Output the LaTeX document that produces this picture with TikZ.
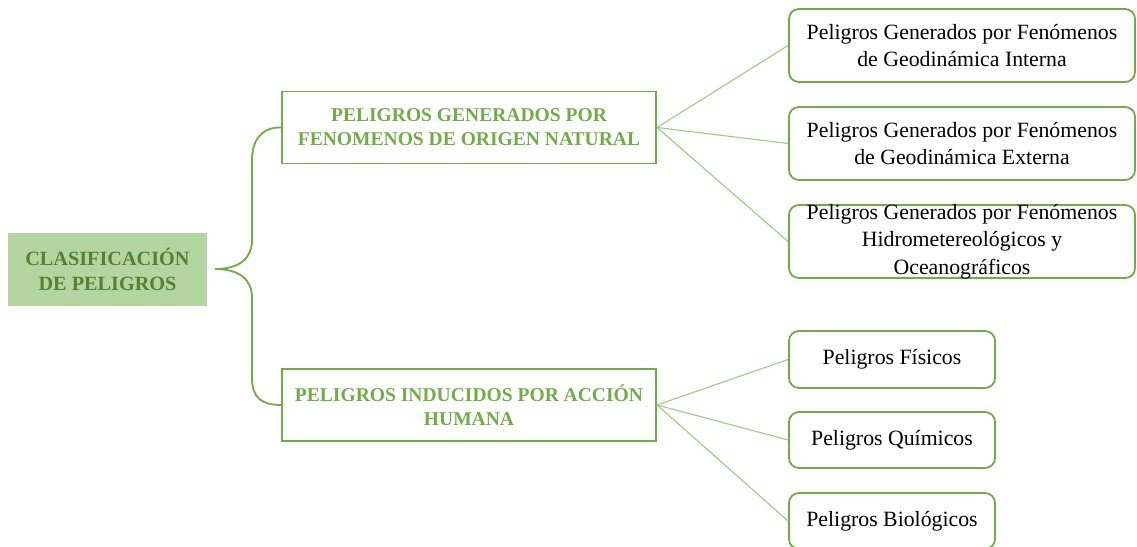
\documentclass[tikz,border=0pt]{standalone}
\usepackage{fontspec}
\setmainfont{Liberation Serif}
\definecolor{leaf}{HTML}{70AD47}
\definecolor{leafdark}{HTML}{548235}
\definecolor{leaffill}{HTML}{B5D5A0}
\definecolor{leaflight}{HTML}{A0CC82}
\tikzset{
  rootbox/.style={fill=leaffill, minimum width=4.975cm, minimum height=1.825cm,
    align=center, text=leafdark, font=\fontsize{14.4}{17.8}\selectfont\bfseries},
  groupbox/.style={draw=leaf, line width=1.4pt, minimum width=9.35cm, minimum height=1.8cm,
    align=center, text=leaf, font=\fontsize{13.9}{17.2}\selectfont\bfseries},
  leafbox/.style={draw=leaf, line width=1.3pt, rounded corners=0.25cm, align=center,
    font=\fontsize{15.5}{19.5}\selectfont},
  brace/.style={draw=leaf, line width=1.3pt},
  link/.style={draw=leaflight, line width=0.8pt}
}
\begin{document}
\begin{tikzpicture}[x=0.025cm, y=-0.025cm]
    \useasboundingbox (0,0) rectangle (1137,546);
    \node[rootbox] (root) at (107.5,269.5) {CLASIFICACIÓN\\DE PELIGROS};
    \node[groupbox] (nat) at (469,127.5) {PELIGROS GENERADOS POR\\FENOMENOS DE ORIGEN NATURAL};
    \node[groupbox] (hum) at (469,405) {PELIGROS INDUCIDOS POR ACCIÓN\\HUMANA};
    \node[leafbox, minimum width=8.65cm, minimum height=1.825cm] (geoi) at (962,45.5)
      {Peligros Generados por Fenómenos\\de Geodinámica Interna};
    \node[leafbox, minimum width=8.65cm, minimum height=1.825cm] (geoe) at (962,143.5)
      {Peligros Generados por Fenómenos\\de Geodinámica Externa};
    \node[leafbox, minimum width=8.65cm, minimum height=1.825cm] (hidro) at (962,241.5) {};
    \node[align=center, font=\fontsize{15.5}{19.5}\selectfont] (hidrot) at (hidro)
      {Peligros Generados por Fenómenos\\Hidrometereológicos y\\Oceanográficos};
    \node[leafbox, minimum width=5.15cm, minimum height=1.425cm] (fis) at (892,359.5) {Peligros Físicos};
    \node[leafbox, minimum width=5.15cm, minimum height=1.4cm] (qui) at (892,440) {Peligros Químicos};
    \node[leafbox, minimum width=5.15cm, minimum height=1.4cm] (bio) at (892,521) {Peligros Biológicos};
    % brace from the root to both groups
    \coordinate (fork) at (215,269);
    \draw[brace] (nat.west) .. controls (262,127) and (252,140) .. (252,160)
      -- (252,240) .. controls (252,258) and (240,269) .. (fork);
    \draw[brace] (fork) .. controls (240,269) and (252,280) .. (252,298)
      -- (252,378) .. controls (252,398) and (262,405) .. (hum.west);
    % links to the leaves
    \draw[link] (nat.east) -- (geoi.west);
    \draw[link] (nat.east) -- (geoe.west);
    \draw[link] (nat.east) -- (hidro.west);
    \draw[link] (hum.east) -- (fis.west);
    \draw[link] (hum.east) -- (qui.west);
    \draw[link] (hum.east) -- (bio.west);
\end{tikzpicture}
\end{document}
